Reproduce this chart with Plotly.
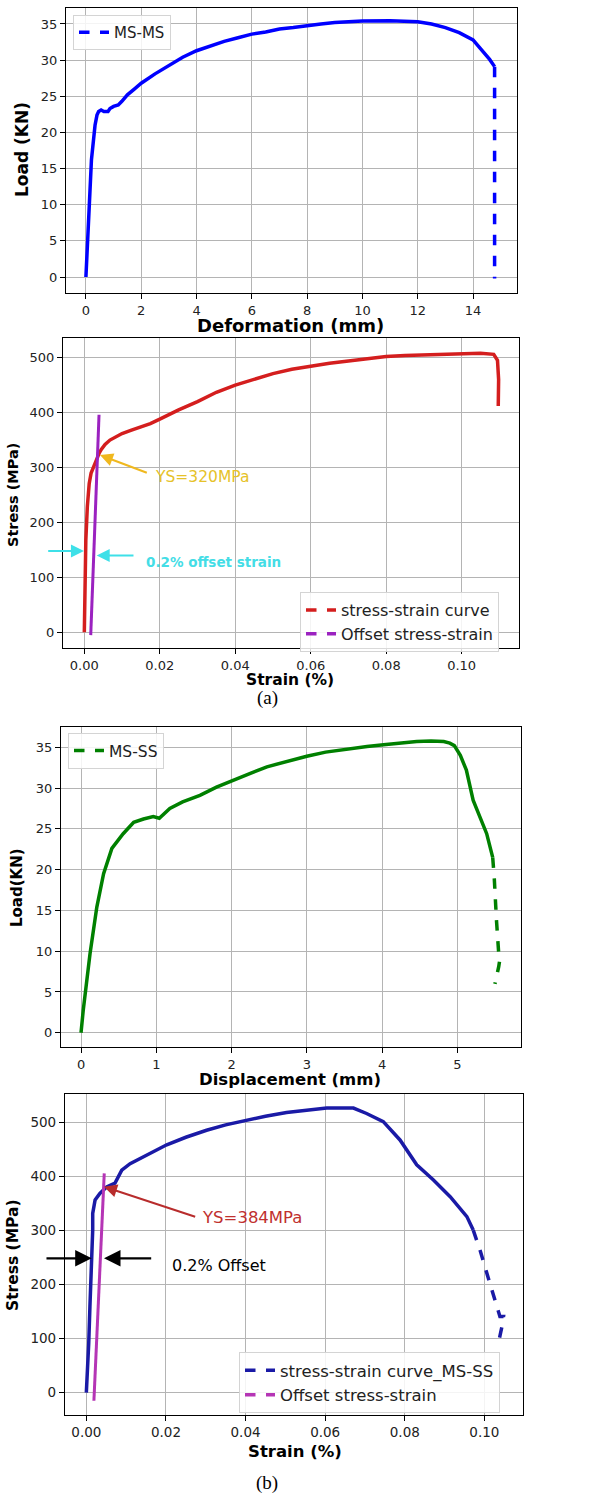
import plotly.graph_objects as go

# ---------------- (a) MS-MS : load vs deformation ----------------
deformation_msms = [0, 0.05, 0.12, 0.2, 0.26, 0.33, 0.4, 0.46, 0.55, 0.65, 0.8, 0.87, 1.0, 1.17,
                    1.3, 1.5, 1.75, 2.0, 2.5, 3.0, 3.5, 4.0, 4.5, 5.0, 5.5, 6.0, 6.5, 7.0, 7.5,
                    8.0, 8.5, 9.0, 9.5, 10.0, 11.0, 11.5, 12.0, 12.5, 13.0, 13.5, 13.8, 14.0,
                    14.2, 14.4, 14.6, 14.78]
load_msms = [0, 3.3, 9.7, 16.2, 19.0, 21.0, 22.4, 22.9, 23.1, 22.9, 22.9, 23.3, 23.6, 23.8,
             24.3, 25.2, 26.0, 26.8, 28.1, 29.3, 30.4, 31.3, 32.0, 32.6, 33.1, 33.6, 33.9, 34.3,
             34.5, 34.8, 35.0, 35.2, 35.3, 35.4, 35.45, 35.4, 35.3, 35.0, 34.5, 33.8, 33.2, 32.8,
             31.9, 31.0, 30.1, 29.1]
deformation_msms_break = [14.78, 14.78]
load_msms_break = [29.1, -0.2]

# ---------------- (a) MS-MS : stress vs strain ----------------
strain_msms = [0, 0.0004, 0.0008, 0.0013, 0.0018, 0.0023, 0.0027, 0.0031, 0.0035, 0.004, 0.0045,
               0.0055, 0.0068, 0.0085, 0.01, 0.0125, 0.015, 0.0175, 0.02, 0.025, 0.03, 0.035,
               0.04, 0.045, 0.05, 0.055, 0.06, 0.065, 0.07, 0.075, 0.08, 0.085, 0.09, 0.095,
               0.1, 0.105, 0.1085, 0.1095, 0.1098, 0.1097]
stress_msms = [0, 168, 229, 271, 290, 299, 305, 313, 320, 327, 333, 342, 350, 357, 362, 368,
               374, 380, 388, 405, 420, 437, 450, 461, 471, 479, 485, 490, 494, 498, 502, 504,
               505, 507, 508, 508, 506, 495, 460, 412]
offset_strain_msms = [0.0017, 0.0039]
offset_stress_msms = [-5, 396]

# ---------------- (b) MS-SS : load vs displacement ----------------
displacement_msss = [0, 0.03, 0.12, 0.21, 0.3, 0.41, 0.56, 0.7, 0.83, 0.96, 1.04, 1.18, 1.35,
                     1.58, 1.8, 2.0, 2.25, 2.47, 2.75, 3.0, 3.25, 3.53, 3.8, 4.02, 4.25, 4.46,
                     4.65, 4.82, 4.9, 4.96, 5.04, 5.12, 5.21, 5.3, 5.39, 5.47]
load_msss = [0, 2.8, 9.7, 15.4, 19.5, 22.6, 24.4, 25.8, 26.2, 26.5, 26.3, 27.5, 28.3, 29.1,
             30.1, 30.9, 31.8, 32.6, 33.3, 33.9, 34.4, 34.8, 35.1, 35.3, 35.5, 35.7, 35.75,
             35.7, 35.5, 35.2, 34.0, 32.2, 28.5, 26.4, 24.4, 21.5]
displacement_msss_break = [5.47, 5.49, 5.52, 5.55, 5.57, 5.55, 5.5]
load_msss_break = [21.5, 19.1, 13.8, 9.7, 9.3, 8.1, 6.0]

# ---------------- (b) MS-SS : stress vs strain ----------------
strain_msss = [0, 0.0003, 0.0006, 0.0009, 0.0013, 0.0016, 0.0016, 0.0016, 0.0022, 0.0034,
               0.0051, 0.0072, 0.0089, 0.011, 0.0135, 0.0165, 0.0202, 0.025, 0.0302, 0.035,
               0.0403, 0.045, 0.0503, 0.055, 0.0604, 0.0671, 0.0704, 0.0746, 0.0788, 0.083,
               0.0872, 0.0914, 0.0956, 0.0972]
stress_msss = [0, 36, 91, 159, 227, 270, 301, 332, 357, 369, 381, 388, 412, 424, 434, 446,
               459, 473, 486, 496, 505, 512, 519, 523, 527, 527, 517, 502, 468, 422, 394, 363,
               326, 301]
strain_msss_break = [0.0972, 0.0989, 0.1014, 0.1039, 0.1048, 0.1044, 0.1035]
stress_msss_break = [301, 264, 202, 141, 141, 122, 91]
offset_strain_msss = [0.0019, 0.0045]
offset_stress_msss = [-15, 406]

W, H = 600, 1497
FONT = "DejaVu Sans"
LW = 3.5


def px(x):
    return x / W


def py(y):
    return 1 - y / H


fig = go.Figure()

# panel 1
fig.add_trace(go.Scatter(x=deformation_msms, y=load_msms, mode="lines",
                         line=dict(color="#0000ff", width=LW), showlegend=False,
                         xaxis="x", yaxis="y"))
fig.add_trace(go.Scatter(x=deformation_msms_break, y=load_msms_break, mode="lines", name="MS-MS",
                         line=dict(color="#0000ff", width=LW, dash="dash"),
                         xaxis="x", yaxis="y", legend="legend"))

# panel 2
fig.add_trace(go.Scatter(x=strain_msms, y=stress_msms, mode="lines",
                         line=dict(color="#d41e1e", width=LW), showlegend=False,
                         legendgroup="c2", xaxis="x2", yaxis="y2"))
fig.add_trace(go.Scatter(x=offset_strain_msms, y=offset_stress_msms, mode="lines",
                         line=dict(color="#9b22c0", width=3), showlegend=False,
                         legendgroup="o2", xaxis="x2", yaxis="y2"))
fig.add_trace(go.Scatter(x=[None], y=[None], mode="lines", name="stress-strain curve",
                         line=dict(color="#d41e1e", width=LW, dash="dash"), legendgroup="c2",
                         xaxis="x2", yaxis="y2", legend="legend2"))
fig.add_trace(go.Scatter(x=[None], y=[None], mode="lines", name="Offset stress-strain",
                         line=dict(color="#9b22c0", width=LW, dash="dash"), legendgroup="o2",
                         xaxis="x2", yaxis="y2", legend="legend2"))

# panel 3
fig.add_trace(go.Scatter(x=displacement_msss, y=load_msss, mode="lines",
                         line=dict(color="#008000", width=LW), showlegend=False,
                         xaxis="x3", yaxis="y3"))
fig.add_trace(go.Scatter(x=displacement_msss_break, y=load_msss_break, mode="lines", name="MS-SS",
                         line=dict(color="#008000", width=LW, dash="dash"),
                         xaxis="x3", yaxis="y3", legend="legend3"))

# panel 4
fig.add_trace(go.Scatter(x=strain_msss, y=stress_msss, mode="lines",
                         line=dict(color="#1a1aa6", width=LW), showlegend=False,
                         xaxis="x4", yaxis="y4"))
fig.add_trace(go.Scatter(x=strain_msss_break, y=stress_msss_break, mode="lines",
                         name="stress-strain curve_MS-SS",
                         line=dict(color="#1a1aa6", width=LW, dash="dash"),
                         xaxis="x4", yaxis="y4", legend="legend4"))
fig.add_trace(go.Scatter(x=offset_strain_msss, y=offset_stress_msss, mode="lines",
                         line=dict(color="#b535b5", width=3), showlegend=False,
                         legendgroup="o4", xaxis="x4", yaxis="y4"))
fig.add_trace(go.Scatter(x=[None], y=[None], mode="lines", name="Offset stress-strain",
                         line=dict(color="#b535b5", width=LW, dash="dash"), legendgroup="o4",
                         xaxis="x4", yaxis="y4", legend="legend4"))


def axis(domain, rng, tickvals, fmt=None, anchor=None, size=13):
    d = dict(domain=domain, range=rng, tickvals=tickvals, showline=True, linecolor="black",
             linewidth=1.2, mirror=True, ticks="outside", ticklen=5, tickcolor="black",
             showgrid=True, gridcolor="#b4b4b4", gridwidth=1, zeroline=False,
             tickfont=dict(family=FONT, size=size, color="#222222"), anchor=anchor)
    if fmt:
        d["tickformat"] = fmt
    return d


def legend(x, y, size):
    return dict(x=x, y=y, xanchor="left", yanchor="top", bgcolor="rgba(255,255,255,0.85)",
                bordercolor="#d4d4d4", borderwidth=1, itemwidth=30, tracegroupgap=0,
                font=dict(family=FONT, size=size, color="#222222"))


fig.update_layout(
    width=W, height=H, margin=dict(l=0, r=0, t=0, b=0),
    paper_bgcolor="white", plot_bgcolor="white",
    xaxis=axis([px(66), px(517)], [-0.72, 15.59], list(range(0, 15, 2)), anchor="y"),
    yaxis=axis([py(293), py(8)], [-2.21, 37.21], list(range(0, 36, 5)), anchor="x"),
    xaxis2=axis([px(63), px(519)], [-0.00565, 0.1152], [0, 0.02, 0.04, 0.06, 0.08, 0.10],
                fmt=".2f", anchor="y2"),
    yaxis2=axis([py(648), py(338)], [-28.5, 535.8], [0, 100, 200, 300, 400, 500], anchor="x2"),
    xaxis3=axis([px(61), px(521)], [-0.266, 5.846], [0, 1, 2, 3, 4, 5], anchor="y3"),
    yaxis3=axis([py(1047), py(727)], [-1.75, 37.48], list(range(0, 36, 5)), anchor="x3"),
    xaxis4=axis([px(65), px(523)], [-0.00536, 0.1097], [0, 0.02, 0.04, 0.06, 0.08, 0.10],
                fmt=".2f", anchor="y4", size=13.5),
    yaxis4=axis([py(1415), py(1094)], [-41.4, 553.1], [0, 100, 200, 300, 400, 500],
                anchor="x4", size=13.5),
    legend=legend(px(73), py(15), 15),
    legend2=legend(px(300), py(592), 16),
    legend3=legend(px(68), py(733), 15.5),
    legend4=legend(px(239), py(1352), 16.5),
)

ann = []


def label(text, x, y, size, angle=0, bold=True, family=FONT, color="black"):
    ann.append(dict(text=f"<b>{text}</b>" if bold else text, x=px(x), y=py(y), xref="paper",
                    yref="paper", showarrow=False, xanchor="center", yanchor="middle",
                    textangle=angle, font=dict(family=family, size=size, color=color)))


# axis titles and captions
label("Deformation (mm)", 290, 325, 18)
label("Load (KN)", 22, 150, 17, angle=-90)
label("Strain (%)", 290, 680, 15.5)
label("Stress (MPa)", 13, 495, 14.5, angle=-90)
label("(a)", 267, 698, 19, bold=False, family="Liberation Serif")
label("Displacement (mm)", 290, 1079, 16.5)
label("Load(KN)", 17, 888, 15, angle=-90)
label("Strain (%)", 295, 1451, 16.5)
label("Stress (MPa)", 13, 1255, 15.5, angle=-90)
label("(b)", 267, 1483, 19, bold=False, family="Liberation Serif")


def arrow(x, y, ax, ay, xr, yr, color, width=2.0, size=1.3):
    ann.append(dict(text="", x=x, y=y, ax=ax, ay=ay, xref=xr, yref=yr, axref=xr, ayref=yr,
                    showarrow=True, arrowhead=2, arrowsize=size, arrowwidth=width,
                    arrowcolor=color, standoff=0))


def note(text, x, y, xr, yr, color, size, bold=False):
    ann.append(dict(text=f"<b>{text}</b>" if bold else text, x=x, y=y, xref=xr, yref=yr,
                    showarrow=False, xanchor="left", yanchor="middle",
                    font=dict(family=FONT, size=size, color=color)))


# panel 2 annotations
arrow(0.00415, 322.8, 0.01696, 289.5, "x2", "y2", "#f0b81e")
note("YS=320MPa", 0.0181, 283.4, "x2", "y2", "#e6c229", 15.5)
arrow(-0.0001, 148, -0.00997, 148, "x2", "y2", "#3ee0e8")
arrow(0.00328, 140, 0.01343, 140, "x2", "y2", "#3ee0e8")
note("0.2% offset strain", 0.0158, 128.6, "x2", "y2", "#44dde6", 13.5, bold=True)

# panel 4 annotations
arrow(0.00444, 381.5, 0.02772, 324.7, "x4", "y4", "#b82c2c")
note("YS=384MPa", 0.02856, 324, "x4", "y4", "#c0302e", 16.5)
arrow(0.00134, 248.8, -0.01039, 248.8, "x4", "y4", "black", width=2.2, size=1.5)
arrow(0.00444, 248.8, 0.01667, 248.8, "x4", "y4", "black", width=2.2, size=1.5)
note("0.2% Offset", 0.02102, 234.6, "x4", "y4", "black", 16)

fig.update_layout(annotations=ann)
fig.write_html("out.html")
